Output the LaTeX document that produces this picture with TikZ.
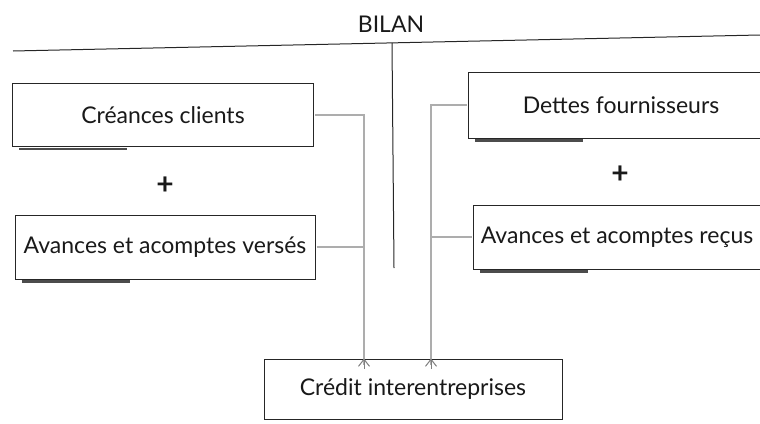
\documentclass[tikz,border=0pt]{standalone}
\usepackage{fontspec}
\setmainfont{Lato}
\usetikzlibrary{arrows.meta}

\begin{document}
\begin{tikzpicture}[x=1pt,y=-1pt]
\tikzstyle{every node}+=[font=\fontsize{23}{26}\selectfont, text=black!90]
\tikzstyle{box}=[draw=black!85, line width=1pt, fill=white, inner sep=0pt]
\tikzstyle{conn}=[draw=black!32, line width=2.2pt]
\tikzstyle{tip}=[black!50, line width=1pt, -{Straight Barb[length=7pt,width=11pt]}]
\tikzstyle{shadowline}=[draw=black!70, line width=2.6pt]
\tikzstyle{plus}=[font=\fontsize{30}{30}\bfseries]
\useasboundingbox (0,0) rectangle (760,423);
\node (bilan) at (391,24) {BILAN};
\coordinate (ltop) at (13,51);
\coordinate (rtop) at (760,35);
\coordinate (mtop) at (392,43);
\coordinate (mbot) at (394,268);
\draw [black!85, line width=1pt] (ltop) -- (rtop);
\draw [black!85, line width=1pt] (mtop) -- (mbot);
\node [box, minimum width=301, minimum height=63] (creances) at (163,115) {Créances clients};
\node [plus] (plusl) at (165,186) {+};
\node [box, minimum width=300, minimum height=64] (verses) at (165,247) {Avances et acomptes versés};
\node [box, minimum width=305, minimum height=66] (dettes) at (621,105) {Dettes fournisseurs};
\node [plus] (plusr) at (620,175) {+};
\node [box, minimum width=305, minimum height=64] (recus) at (626,237) {\hspace*{-18pt}Avances et acomptes reçus};
\node [box, minimum width=298, minimum height=60] (credit) at (413,389) {Crédit interentreprises};
\draw [shadowline] ([shift={(7,2)}]creances.south west) -- ([shift={(115,2)}]creances.south west);
\draw [shadowline] ([shift={(7,2)}]verses.south west) -- ([shift={(115,2)}]verses.south west);
\draw [shadowline] ([shift={(7,2)}]dettes.south west) -- ([shift={(115,2)}]dettes.south west);
\draw [shadowline] ([shift={(7,2)}]recus.south west) -- ([shift={(115,2)}]recus.south west);
\draw [conn] ([xshift=1pt]creances.east) -| ([xshift=-49pt,yshift=-6pt]credit.north);
\draw [conn] ([xshift=1pt]verses.east) -- ++(48,0);
\draw [conn] ([xshift=-1pt]dettes.west) -| ([xshift=18pt,yshift=-6pt]credit.north);
\draw [conn] ([xshift=-1pt]recus.west) -- ++(-41,0);
\draw [tip] ([xshift=-49pt,yshift=-10pt]credit.north) -- ([xshift=-49pt]credit.north);
\draw [tip] ([xshift=18pt,yshift=-10pt]credit.north) -- ([xshift=18pt]credit.north);
\end{tikzpicture}
\end{document}
